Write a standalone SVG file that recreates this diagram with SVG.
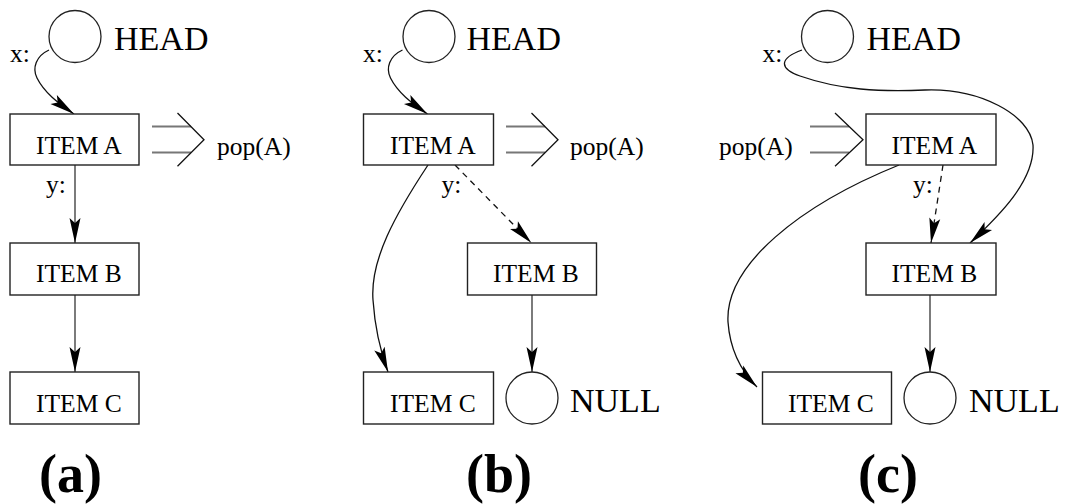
<svg xmlns="http://www.w3.org/2000/svg" width="1065" height="504" viewBox="0 0 1065 504">
<style>
.box{fill:#fff;stroke:#222;stroke-width:1.4}
.circ{fill:#fff;stroke:#222;stroke-width:1.3}
text{font-family:"Liberation Serif","Times New Roman",serif;fill:#000}
.lbl{font-size:25.5px}
.big{font-size:34px}
.cap{font-size:54px;font-weight:bold}
.ed{fill:none;stroke:#111;stroke-width:1.3}
.st{fill:none;stroke:#444;stroke-width:1.4}
.arr{marker-end:url(#ah)}
.dash{stroke-dasharray:6 5}
.popl{fill:none;stroke:#777;stroke-width:2}
.popc{fill:none;stroke:#111;stroke-width:1.3}
</style>
<defs>
<marker id="ah" markerUnits="userSpaceOnUse" viewBox="-26 -6 27 12" markerWidth="27" markerHeight="12" refX="0" refY="0" orient="auto">
<path d="M0,0 L-25,-5.5 L-20,0 L-25,5.5 Z" fill="#000"/>
</marker>
</defs>
<rect width="1065" height="504" fill="#fff"/>

<g id="connectors">
<!-- (a) -->
<path class="ed arr" d="M49 50 C36 56,32 68,37 78 C45 94,60 104,74 114"/>
<path class="st arr" d="M75 165 L75 243"/>
<path class="st arr" d="M75 295 L75 372"/>
<path class="popl" d="M152 126.5 H191 M152 152.5 H191"/>
<path class="popc" d="M177.5 113 L204 139.7 L177.5 166.3"/>
<!-- (b) -->
<path class="ed arr" d="M402.5 50 C389.5 56,385.5 68,390.5 78 C398.5 94,413.5 104,427.5 114"/>
<path class="ed arr dash" d="M455 165 L531.5 243"/>
<path class="ed arr" d="M428 165 C395 215,370 260,373 300 C375 330,380 350,388 372"/>
<path class="st arr" d="M532 295 L532 372"/>
<path class="popl" d="M506 126.5 H545 M506 152.5 H545"/>
<path class="popc" d="M531.5 113 L558 139.7 L531.5 166.3"/>
<!-- (c) -->
<path class="ed arr" d="M802 50 C780 58,778 68,800 76 C840 90,880 92,925 90 C980 88,1030 115,1033 145 C1035 180,1000 215,970 243"/>
<path class="ed arr dash" d="M943 165 L931 243"/>
<path class="ed arr" d="M899 165 C800 205,725 265,728 322 C730 350,740 370,757 387"/>
<path class="st arr" d="M930 295 L930 372"/>
<path class="popl" d="M810 126.5 H849 M810 152.5 H849"/>
<path class="popc" d="M835 113 L863 139.7 L835 166.3"/>
</g>

<g id="a-head"><circle class="circ" cx="75" cy="36.5" r="26"/><text class="big" x="114" y="50">HEAD</text></g>
<g id="a-x"><text class="lbl" x="10" y="62">x:</text></g>
<g id="a-itemA"><rect class="box" x="10" y="114" width="129" height="51"/><text class="lbl" x="36" y="154">ITEM A</text></g>
<g id="a-pop"><text class="lbl" x="217" y="155">pop(A)</text></g>
<g id="a-y"><text class="lbl" x="46" y="193">y:</text></g>
<g id="a-itemB"><rect class="box" x="10" y="243" width="129" height="52"/><text class="lbl" x="36" y="282">ITEM B</text></g>
<g id="a-itemC"><rect class="box" x="10" y="372" width="129" height="52"/><text class="lbl" x="36" y="412">ITEM C</text></g>
<g id="a-cap"><text class="cap" x="39" y="492">(a)</text></g>

<g id="b-head"><circle class="circ" cx="429" cy="36.5" r="26"/><text class="big" x="466.5" y="50">HEAD</text></g>
<g id="b-x"><text class="lbl" x="363" y="62">x:</text></g>
<g id="b-itemA"><rect class="box" x="363.5" y="114" width="130" height="51"/><text class="lbl" x="390" y="154">ITEM A</text></g>
<g id="b-pop"><text class="lbl" x="570" y="155">pop(A)</text></g>
<g id="b-y"><text class="lbl" x="441.5" y="193">y:</text></g>
<g id="b-itemB"><rect class="box" x="467.5" y="243" width="129" height="52"/><text class="lbl" x="493" y="282">ITEM B</text></g>
<g id="b-itemC"><rect class="box" x="363.5" y="372" width="130" height="52"/><text class="lbl" x="390" y="412">ITEM C</text></g>
<g id="b-null"><circle class="circ" cx="532" cy="398" r="26"/><text class="big" x="570" y="412">NULL</text></g>
<g id="b-cap"><text class="cap" x="466" y="492">(b)</text></g>

<g id="c-head"><circle class="circ" cx="827.5" cy="36.5" r="26"/><text class="big" x="866.5" y="50">HEAD</text></g>
<g id="c-x"><text class="lbl" x="762.5" y="62">x:</text></g>
<g id="c-itemA"><rect class="box" x="866" y="114" width="130" height="51"/><text class="lbl" x="891.5" y="154">ITEM A</text></g>
<g id="c-pop"><text class="lbl" x="719" y="155">pop(A)</text></g>
<g id="c-y"><text class="lbl" x="913" y="193">y:</text></g>
<g id="c-itemB"><rect class="box" x="866" y="243" width="130" height="52"/><text class="lbl" x="891.5" y="282">ITEM B</text></g>
<g id="c-itemC"><rect class="box" x="762.5" y="372" width="129" height="52"/><text class="lbl" x="788" y="412">ITEM C</text></g>
<g id="c-null"><circle class="circ" cx="930" cy="398" r="26"/><text class="big" x="969" y="412">NULL</text></g>
<g id="c-cap"><text class="cap" x="858" y="492">(c)</text></g>
</svg>
